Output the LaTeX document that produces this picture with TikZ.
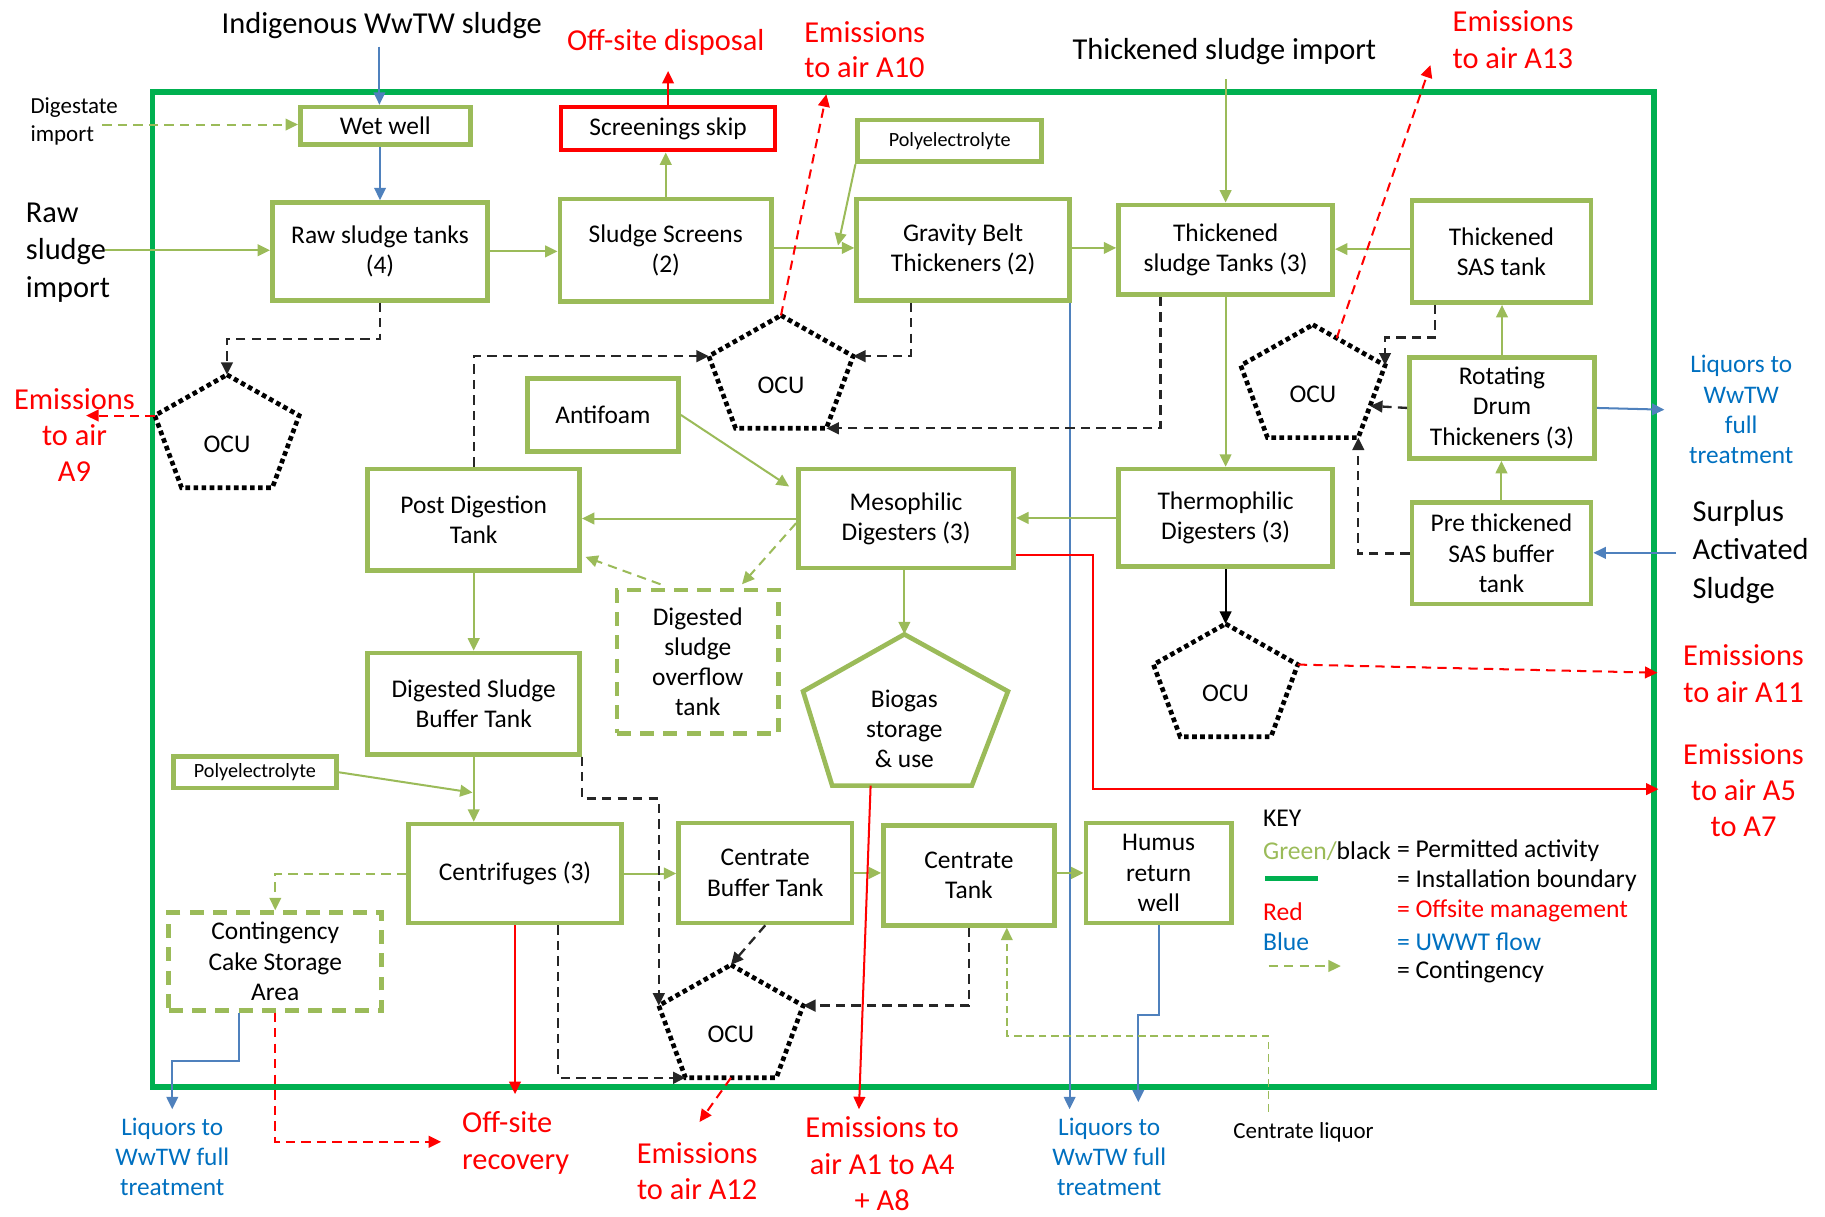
\documentclass[tikz,border=0pt]{standalone}
\usepackage{fontspec}
\setmainfont{Carlito}
\usetikzlibrary{arrows.meta,calc}
\definecolor{boxgreen}{HTML}{9BBB59}
\definecolor{bndgreen}{HTML}{00B050}
\definecolor{lineblue}{HTML}{4F81BD}
\definecolor{textblue}{HTML}{0070C0}
\definecolor{myred}{HTML}{FF0000}
\newcommand\boxfont{\fontsize{16.4pt}{19.5pt}\selectfont}
\newcommand\bigfont{\fontsize{19.6pt}{23.5pt}\selectfont}
\newcommand\liqfont{\fontsize{16.3pt}{19.5pt}\selectfont}
\newcommand\polyfont{\fontsize{13pt}{15pt}\selectfont}
\newcommand\smallfont{\fontsize{14.8pt}{18pt}\selectfont}
\newcommand\keyfont{\fontsize{16.5pt}{19.5pt}\selectfont}
\tikzset{
  box/.style={draw=boxgreen, line width=3pt, align=center, font=\boxfont, inner sep=1pt},
  dbox/.style={box, dash pattern=on 9pt off 6pt},
  sz/.style 2 args={minimum width=#1*0.75pt, minimum height=#2*0.75pt},
  tip/.style={-{Triangle[length=8pt,width=7.5pt]}},
  garr/.style={draw=boxgreen, line width=1.3pt, tip},
  gdash/.style={garr, dash pattern=on 6pt off 4pt},
  barr/.style={draw=lineblue, line width=1.3pt, tip},
  rarr/.style={draw=myred, line width=1.3pt, tip},
  rdash/.style={rarr, dash pattern=on 6pt off 4pt},
  kdash/.style={draw=black!85, line width=1.5pt, dash pattern=on 6pt off 4pt, tip},
  karr/.style={draw=black, line width=1.3pt, tip},
  oculine/.style={draw=black, line width=3pt, dash pattern=on 3pt off 2.2pt},
  lbl/.style={inner sep=0pt, align=center},
  biglbl/.style={lbl, font=\bigfont},
  liqlbl/.style={lbl, font=\liqfont, text=textblue},
  keytxt/.style={inner sep=0pt, anchor=west, font=\keyfont},
}
\newcommand\ocupent[3]{%
  \coordinate (#1-t) at (#2,#3-60);
  \coordinate (#1-l) at (#2-62,#3-25);
  \coordinate (#1-r) at (#2+62,#3-25);
  \coordinate (#1-bl) at (#2-39,#3+37);
  \coordinate (#1-br) at (#2+39,#3+37);
  \draw[oculine] (#1-t) -- (#1-r) -- (#1-br) -- (#1-bl) -- (#1-l) -- cycle;
  \node[font=\boxfont, inner sep=0pt] (#1) at (#2,#3) {OCU};
}
\begin{document}
\begin{tikzpicture}[x=0.75pt,y=-0.75pt]
\useasboundingbox (0,0) rectangle (1568,1045);

% installation boundary
\draw[draw=bndgreen, line width=3.6pt] (131,79) rectangle (1421,934);

% boxes
\node[box, sz={146}{32}] (wet) at (331,108) {Wet well};
\node[box, draw=myred, sz={184}{37}] (skip) at (574,110.5) {Screenings skip};
\node[box, sz={158}{36}, font=\polyfont] (poly1) at (816,121) {Polyelectrolyte};
\node[box, sz={185}{84}] (raw) at (326.5,216) {Raw sludge tanks\\(4)};
\node[box, sz={182}{88}] (scr) at (572,215) {Sludge Screens\\(2)};
\node[box, sz={183}{87}] (gbt) at (827.5,214.5) {Gravity Belt\\Thickeners (2)};
\node[box, sz={184}{77}] (tst) at (1053,214.5) {Thickened\\sludge Tanks (3)};
\node[box, sz={154}{88}] (sas) at (1290,216) {Thickened\\SAS tank};
\node[box, sz={159}{87}] (rdt) at (1290.5,350.5) {Rotating\\Drum\\Thickeners (3)};
\node[box, sz={154}{87}] (pre) at (1290,475.5) {Pre thickened\\SAS buffer\\tank};
\node[box, sz={130}{63}] (anti) at (518,356.5) {Antifoam};
\node[box, sz={182}{87}] (post) at (407,446.5) {Post Digestion\\Tank};
\node[box, sz={185}{85}] (meso) at (778.5,445.5) {Mesophilic\\Digesters (3)};
\node[box, sz={184}{84}] (thermo) at (1053,445) {Thermophilic\\Digesters (3)};
\node[dbox, sz={139}{123}] (over) at (599.5,568.5) {Digested\\sludge\\overflow\\tank};
\node[box, sz={182}{87}] (dsb) at (407,604.5) {Digested Sludge\\Buffer Tank};
\node[box, sz={140}{27}, font=\polyfont] (poly2) at (219,663.5) {Polyelectrolyte};
\node[box, sz={183}{85}] (cent) at (442.5,750.5) {Centrifuges (3)};
\node[dbox, sz={183}{84}] (cont) at (236.5,826) {Contingency\\Cake Storage\\Area};
\node[box, sz={149}{86}] (cbt) at (657.5,750) {Centrate\\Buffer Tank};
\node[box, sz={147}{86}] (ctank) at (832.5,752) {Centrate\\Tank};
\node[box, sz={125}{86}] (humus) at (995.5,750) {Humus\\return\\well};

% biogas pentagon
\coordinate (bio-t) at (777,545);
\coordinate (bio-l) at (690,594);
\coordinate (bio-r) at (866,594);
\coordinate (bio-br) at (835,675);
\coordinate (bio-bl) at (715,675);
\draw[draw=boxgreen, line width=3pt, line join=miter] (bio-t) -- (bio-r) -- (bio-br) -- (bio-bl) -- (bio-l) -- cycle;
\node[font=\boxfont, align=center, inner sep=0pt] (bio) at (777,626) {Biogas\\storage\\\& use};

% OCUs
\ocupent{ocu1}{195}{382}
\ocupent{ocu2}{671}{331}
\ocupent{ocu3}{1128}{339}
\ocupent{ocu4}{1053}{596}
\ocupent{ocu5}{628}{889}

% outside labels
\node[biglbl] (indig) at (328,22) {Indigenous WwTW sludge};
\node[biglbl, text=myred] (offd) at (572,36) {Off-site disposal};
\node[biglbl, text=myred, align=left, font=\fontsize{19.6pt}{22.5pt}\selectfont] (e10) at (743,43) {Emissions\\to air A10};
\node[biglbl] (tsimp) at (1052,44) {Thickened sludge import};
\node[biglbl, text=myred, align=left] (e13) at (1300,34) {Emissions\\to air A13};
\node[lbl, align=left, anchor=west, font=\smallfont] (dig) at (26,104) {Digestate\\import};
\node[biglbl, align=left, anchor=west, font=\fontsize{19.6pt}{24pt}\selectfont] (rawimp) at (22,217) {Raw\\sludge\\import};
\node[biglbl, text=myred, font=\fontsize{19.6pt}{23.2pt}\selectfont] (e9) at (64,374) {Emissions\\to air\\A9};
\node[liqlbl] (lqr) at (1496,352) {Liquors to\\WwTW\\full\\treatment};
\node[biglbl, align=left, anchor=west, font=\fontsize{19.6pt}{24.75pt}\selectfont] (surplus) at (1454,474) {Surplus\\Activated\\Sludge};
\node[biglbl, text=myred, font=\fontsize{19.6pt}{24pt}\selectfont] (e11) at (1498,579) {Emissions\\to air A11};
\node[biglbl, text=myred, font=\fontsize{19.6pt}{23.2pt}\selectfont] (e5) at (1498,679) {Emissions\\to air A5\\to A7};
\node[liqlbl] (lq1t) at (148,994) {Liquors to\\WwTW full\\treatment};
\node[biglbl, text=myred, align=left, font=\fontsize{19.6pt}{24pt}\selectfont] (offrec) at (443,982) {Off-site\\recovery};
\node[biglbl, text=myred, font=\fontsize{19.6pt}{23.2pt}\selectfont] (e12) at (599,1006) {Emissions\\to air A12};
\node[biglbl, text=myred, font=\fontsize{19.6pt}{23.5pt}\selectfont] (e1) at (758,1000) {Emissions to\\air A1 to A4\\+ A8};
\node[liqlbl] (lq2t) at (953,994) {Liquors to\\WwTW full\\treatment};
\node[lbl, font=\smallfont] (cliq) at (1120,973) {Centrate liquor};

% free ends
\coordinate (cIndig) at (326,40);
\coordinate (cOffd) at (574,61);
\coordinate (cE10) at (710,81);
\coordinate (cTsi) at (1053,68);
\coordinate (cE13) at (1229,56);
\coordinate (cDig) at (88,107);
\coordinate (cRsi) at (90,215);
\coordinate (cE9) at (74,357);
\coordinate (cLqr) at (1430,352);
\coordinate (cSur) at (1440,475);
\coordinate (cE11) at (1424,578);
\coordinate (cE5) at (1425,678);
\coordinate (cLq1) at (148,953);
\coordinate (cOff1) at (443,940);
\coordinate (cOff2) at (379,981);
\coordinate (cE12) at (601,964);
\coordinate (cE1) at (738,953);
\coordinate (cLq2) at (919,953);
\coordinate (cLq3) at (978,947);
\coordinate (cPoly1) at (720,211);
\coordinate (cPoly2) at (406,681);
\coordinate (cAnti) at (678,418);
\coordinate (cClq) at (1090,955);
\coordinate (cClc) at (865,890);

% blue flows
\draw[barr] (cIndig) -- (cIndig |- wet.north);
\draw[barr] (wet.south -| raw.north) -- (raw.north);
\draw[barr] (rdt.east) -- (cLqr);
\draw[barr] (cSur) -- (cSur -| pre.east);
\draw[barr] (gbt.south east -| cLq2) -- (cLq2);
\draw[barr] ($(cont.south)+(-31,0)$) -- ++(0,42) -| (cLq1);
\draw[barr] (humus.south) -- ++(0,77) -| (cLq3);

% green flows
\draw[garr] (cRsi) -- (cRsi -| raw.west);
\draw[gdash] (cDig) -- (cDig -| wet.west);
\draw[garr] (raw.east) -- (raw.east -| scr.west);
\draw[garr] (scr.north) -- (scr.north |- skip.south);
\draw[garr] (scr.east |- 0,213) -- (gbt.west |- 0,213);
\draw[garr] (poly1.south west) -- (cPoly1);
\draw[garr] (gbt.east |- 0,213) -- (tst.west |- 0,213);
\draw[garr] (cTsi) -- (cTsi |- tst.north);
\draw[garr] (sas.west |- 0,214) -- (tst.east |- 0,214);
\draw[garr] (rdt.north) -- (rdt.north |- sas.south);
\draw[garr] (pre.north) -- (pre.north |- rdt.south);
\draw[garr] (tst.south) -- (thermo.north);
\draw[garr] (thermo.west) -- (thermo.west -| meso.east);
\draw[garr] (meso.west) -- (meso.west -| post.east);
\draw[garr] (anti.east) -- (cAnti);
\draw[garr] (meso.south -| bio-t) -- (bio-t);
\draw[garr] (post.south) -- (dsb.north);
\draw[garr] (dsb.south) -- (dsb.south |- cent.north);
\draw[garr] (poly2.east) -- (cPoly2);
\draw[garr] (cent.east) -- (cent.east -| cbt.west);
\draw[garr] (cbt.east) -- (cbt.east -| ctank.west);
\draw[garr] (ctank.east |- 0,750) -- (humus.west |- 0,750);
\draw[gdash] ($(meso.west)+(0,4)$) -- ($(over.north)+(38,-3)$);
\draw[gdash] ($(over.north)+(-32,-3)$) -- ($(post.east)+(3,32)$);
\draw[gdash] (cent.west) -| (cont.north);
\draw[draw=boxgreen, line width=1pt, dash pattern=on 5pt off 3pt, tip] (cClq) |- (cClc) -- (cClc |- ctank.south);

% black dashed flows to OCUs
\draw[kdash] (raw.south) -- ++(0,31) -| (ocu1-t);
\draw[kdash] (post.north) |- (ocu2-l);
\draw[kdash] ($(gbt.south)+(-45,0)$) |- (ocu2-r);
\draw[kdash] ($(tst.south)+(-56,0)$) |- (ocu2-br);
\draw[kdash] ($(sas.south)+(-57,0)$) -- ++(0,28) -| (ocu3-r);
\draw[kdash] (rdt.west) -- ($(ocu3-r)!0.56!(ocu3-br)$);
\draw[kdash] (pre.west) -| (ocu3-br);
\draw[karr] (thermo.south) -- (ocu4-t);
\draw[kdash] (dsb.south east) -- ++(0,36) -| (ocu5-l);
\draw[kdash] ($(cent.south)+(37,0)$) |- (ocu5-bl);
\draw[kdash] (cbt.south) -- (ocu5-t);
\draw[kdash] (ctank.south) |- (ocu5-r);

% red flows
\draw[rarr] (skip.north) -- (cOffd);
\draw[rdash] (ocu2-t) -- (cE10);
\draw[rdash] ($(ocu3-t)!0.33!(ocu3-r)$) -- (cE13);
\draw[rdash] (ocu1-l) -- (cE9);
\draw[rdash] (ocu4-r) -- (cE11);
\draw[rarr] ($(meso.east)+(0,31)$) -- ++(66,0) |- (cE5);
\draw[rarr] (cent.south) -- (cent.south |- cOff1);
\draw[rdash] (cont.south) |- (cOff2);
\draw[rdash] ($(ocu5-bl)!0.5!(ocu5-br)$) -- (cE12);
\draw[rarr] ($(bio-bl)!0.275!(bio-br)$) -- (cE1);

% key
\node[keytxt] (k1) at (1085,703) {KEY};
\node[keytxt] (k2) at (1085,731) {\textcolor{boxgreen}{Green/}black};
\node[keytxt] (k3) at (1200,731) {= Permitted activity};
\coordinate (kl1) at (1087,755);
\coordinate (kl2) at (1132,755);
\draw[draw=bndgreen, line width=3.5pt] (kl1) -- (kl2);
\node[keytxt] (k4) at (1200,757) {= Installation boundary};
\node[keytxt, text=myred] (k5) at (1085,783) {Red};
\node[keytxt, text=myred] (k6) at (1200,783) {= Offsite management};
\node[keytxt, text=textblue] (k7) at (1085,809) {Blue};
\node[keytxt, text=textblue] (k8) at (1200,809) {= UWWT flow};
\coordinate (kd1) at (1090,830);
\coordinate (kd2) at (1152,830);
\draw[gdash] (kd1) -- (kd2);
\node[keytxt] (k9) at (1200,835) {= Contingency};
\end{tikzpicture}
\end{document}
